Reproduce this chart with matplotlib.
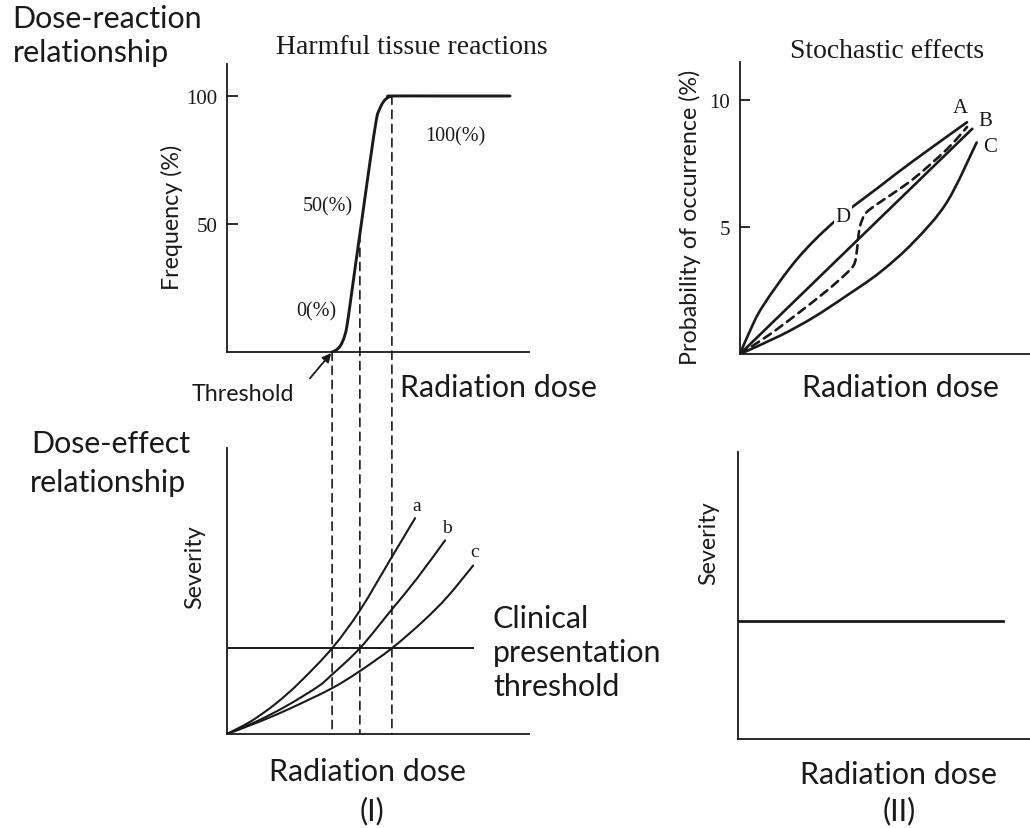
import matplotlib
matplotlib.use("Agg")
import numpy as np
import matplotlib.pyplot as plt
from matplotlib.patches import ConnectionPatch, PathPatch
from matplotlib.path import Path

W, H = 1030, 829
SANS = ["Lato", "DejaVu Sans"]
SERIF = ["Liberation Serif", "DejaVu Serif"]
INK = "#1a1a1a"

# ---------------- data ----------------
# (I) top: dose-reaction (frequency %) for harmful tissue reactions
freq_dose = [3.48, 3.62, 3.74, 3.83, 3.90, 3.97, 4.08, 4.25, 4.50, 4.75, 4.95,
             5.05, 5.16, 5.28, 5.38, 5.46, 7.0, 9.37]
freq_pct = [0.0, 0.8, 2.2, 4.2, 6.5, 10.0, 19.0, 33.5, 54.5, 75.5, 91.0,
            94.8, 97.4, 99.0, 99.7, 100.0, 100.0, 100.0]
marker_doses = [3.48, 4.40, 5.46]      # threshold, 50 %, 100 %
marker_labels = ["0(%)", "50(%)", "100(%)"]
freq_yticks = [50, 100]

# (I) bottom: dose-effect (severity) curves a, b, c
sev_a_dose = [0, 0.8, 1.6, 2.4, 3.48, 4.40, 5.43, 6.23]
sev_a = [0, 0.45, 1.05, 1.8, 3.0, 4.32, 6.14, 7.55]
sev_b_dose = [0, 1.0, 2.0, 3.0, 3.44, 4.40, 5.43, 6.3, 7.22]
sev_b = [0, 0.45, 1.0, 1.65, 2.04, 3.0, 4.32, 5.45, 6.77]
sev_c_dose = [0, 1.0, 2.0, 3.44, 4.37, 5.46, 6.5, 7.3, 8.15]
sev_c = [0, 0.4, 0.85, 1.58, 2.18, 3.0, 3.95, 4.8, 5.89]
curve_names_I = ["a", "b", "c"]
clinical_threshold = 3.0
clinical_line_end = 8.15

# (II) top: probability of occurrence (%) for stochastic effects
prob_A_dose = [0, 0.3, 0.79, 1.97, 3.28, 4.83, 5.97, 7.83]
prob_A = [0, 0.8, 1.89, 3.74, 5.24, 6.61, 7.6, 9.13]
prob_B_dose = [0, 8.0]
prob_B = [0, 8.86]
prob_C_dose = [0, 1.38, 2.53, 3.68, 4.83, 5.98, 7.13, 8.16]
prob_C = [0, 0.72, 1.44, 2.30, 3.22, 4.40, 5.97, 8.33]
prob_D_dose = [0, 1.0, 2.0, 3.0, 3.6, 3.9, 4.0, 4.07, 4.14, 4.31, 4.6, 4.83, 5.97, 7.14, 7.83]
prob_D = [0, 0.75, 1.6, 2.5, 3.1, 3.46, 3.8, 4.5, 5.04, 5.51, 5.8, 5.98, 6.89, 8.07, 8.94]
prob_yticks = [5, 10]

# (II) bottom: severity independent of dose
sevII_dose = [0, 9.08]
sevII = [4.1, 4.1]


# ---------------- helpers ----------------
def rect(l, t, r, b):
    return [l / W, 1 - b / H, (r - l) / W, (b - t) / H]


def fx(x):
    return x / W


def fy(y):
    return 1 - y / H


fig = plt.figure(figsize=(W / 100, H / 100), dpi=100)
fig.patch.set_facecolor("white")
renderer = fig.canvas.get_renderer()


def fit_size(s, family, target_px, base=20):
    t = fig.text(0, 0, s, fontsize=base, family=family)
    w = t.get_window_extent(renderer).width
    t.remove()
    return base * target_px / w


BIG = fit_size("Radiation dose", SANS, 197)
MED = fit_size("Probability of occurrence (%)", SANS, 295)
TITLE = fit_size("Harmful tissue reactions", SERIF, 271)


def make_axes(r, xlim, ylim):
    ax = fig.add_axes(r)
    ax.set_xlim(*xlim)
    ax.set_ylim(*ylim)
    ax.patch.set_alpha(0)
    for s in ["top", "right"]:
        ax.spines[s].set_visible(False)
    for s in ["left", "bottom"]:
        ax.spines[s].set_linewidth(1.3)
        ax.spines[s].set_color(INK)
    ax.set_xticks([])
    ax.set_yticks([])
    return ax


def smooth_curve(ax, xs, ys, **kw):
    """Draw a smooth (Catmull-Rom style Bezier) curve through the given points."""
    pts = ax.transData.transform(np.column_stack([xs, ys]))
    n = len(pts)
    verts = [pts[0]]
    codes = [Path.MOVETO]
    for i in range(n - 1):
        p0 = pts[i - 1] if i > 0 else pts[i]
        p1 = pts[i]
        p2 = pts[i + 1]
        p3 = pts[i + 2] if i + 2 < n else pts[i + 1]
        c1 = p1 + (p2 - p0) / 6.0
        c2 = p2 - (p3 - p1) / 6.0
        verts += [c1, c2, p2]
        codes += [Path.CURVE4] * 3
    verts = ax.transData.inverted().transform(np.array(verts))
    patch = PathPatch(Path(verts, codes), fill=False, edgecolor=INK,
                      capstyle="round", joinstyle="round", **kw)
    ax.add_patch(patch)
    return patch


# ---------------- (I) top ----------------
ax1 = make_axes(rect(227, 65, 529, 353), (0, 10), (0, 112.5))
smooth_curve(ax1, freq_dose, freq_pct, lw=2.1, zorder=3)
ax1.set_yticks(freq_yticks)
ax1.set_yticklabels([str(v) for v in freq_yticks], family=SERIF, fontsize=15)
ax1.tick_params(axis="y", direction="in", length=8, width=1.3, pad=7, colors=INK)

label_pos = [(316, 312), (328, 207), (455, 137)]
for lab, (px, py) in zip(marker_labels, label_pos):
    fig.text(fx(px), fy(py), lab, ha="center", va="center", family=SERIF,
             fontsize=14.5, color=INK)

# ---------------- (I) bottom ----------------
ax3 = make_axes(rect(227, 449, 529, 735), (0, 10), (0, 10))
for d, v in [(sev_a_dose, sev_a), (sev_b_dose, sev_b), (sev_c_dose, sev_c)]:
    smooth_curve(ax3, d, v, lw=1.5)
ax3.plot([0, clinical_line_end], [clinical_threshold, clinical_threshold], color=INK, lw=1.4)
for name, d, v, dy in zip(curve_names_I, [sev_a_dose, sev_b_dose, sev_c_dose],
                          [sev_a, sev_b, sev_c], [0.45, 0.45, 0.5]):
    ax3.text(d[-1] + 0.05, v[-1] + dy, name, ha="center", va="center",
             family=SERIF, fontsize=14, color=INK)

# dashed connectors between the two panels of (I), starting on the curve
for d in marker_doses:
    f = float(np.interp(d, freq_dose, freq_pct))
    con = ConnectionPatch(xyA=(d, f), coordsA=ax1.transData,
                          xyB=(d, 0), coordsB=ax3.transData,
                          color=INK, lw=1.2, linestyle=(0, (5, 3.5)), zorder=1)
    fig.add_artist(con)

# threshold arrow
ax1.annotate("", xy=(marker_doses[0], 0), xytext=(-16, -19), textcoords="offset points",
             arrowprops=dict(arrowstyle="-|>", lw=1.3, color=INK, shrinkA=0, shrinkB=1,
                             mutation_scale=13), annotation_clip=False)

# ---------------- (II) top ----------------
ax2 = make_axes(rect(740, 63, 1030, 355), (0, 10), (0, 11.5))
smooth_curve(ax2, prob_A_dose, prob_A, lw=1.9)
ax2.plot(prob_B_dose, prob_B, color=INK, lw=1.9)
smooth_curve(ax2, prob_C_dose, prob_C, lw=1.9)
smooth_curve(ax2, prob_D_dose, prob_D, lw=1.9, linestyle=(0, (3.2, 2.2)))
ax2.set_yticks(prob_yticks)
ax2.set_yticklabels([str(v) for v in prob_yticks], family=SERIF, fontsize=15)
ax2.tick_params(axis="y", direction="in", length=7, width=1.3, pad=7, colors=INK)
for name, (px, py) in zip(["A", "B", "C", "D"],
                          [(960, 109), (985, 122), (990, 148), (843, 217)]):
    fig.text(fx(px), fy(py), name, ha="center", va="center", family=SERIF,
             fontsize=15, color=INK, zorder=5,
             bbox=dict(boxstyle="square,pad=0.05", fc="white", ec="none") if name == "D" else None)

# ---------------- (II) bottom ----------------
ax4 = make_axes(rect(738, 453, 1030, 740), (0, 10), (0, 10))
ax4.plot(sevII_dose, sevII, color=INK, lw=2.0)

# ---------------- texts ----------------
def sans(x, y, s, size, **kw):
    kw.setdefault("ha", "center")
    kw.setdefault("va", "center")
    fig.text(fx(x), fy(y), s, family=SANS, fontsize=size, color=INK, **kw)


sans(12, 28, "Dose-reaction", BIG, ha="left", va="baseline")
sans(13, 62, "relationship", BIG, ha="left", va="baseline")
sans(31, 453, "Dose-effect", BIG, ha="left", va="baseline")
sans(30, 492, "relationship", BIG, ha="left", va="baseline")

sans(498, 388, "Radiation dose", BIG)
sans(900, 388, "Radiation dose", BIG)
sans(367, 772, "Radiation dose", BIG)
sans(898, 775, "Radiation dose", BIG)
sans(372, 811, "(I)", BIG)
sans(899, 811, "(II)", BIG)

sans(493, 628, "Clinical", BIG, ha="left", va="baseline")
sans(493, 662, "presentation", BIG, ha="left", va="baseline")
sans(493, 696, "threshold", BIG, ha="left", va="baseline")

sans(243, 395, "Threshold", MED)
sans(172, 217, "Frequency (%)", MED, rotation=90)
sans(690, 217, "Probability of occurrence (%)", MED, rotation=90)
sans(195, 567, "Severity", MED, rotation=90)
sans(709, 543, "Severity", MED, rotation=90)

fig.text(fx(412), fy(48), "Harmful tissue reactions", ha="center", va="center",
         family=SERIF, fontsize=TITLE, color=INK)
fig.text(fx(887), fy(51), "Stochastic effects", ha="center", va="center",
         family=SERIF, fontsize=TITLE, color=INK)

fig.savefig("out.png", dpi=100, facecolor="white")
